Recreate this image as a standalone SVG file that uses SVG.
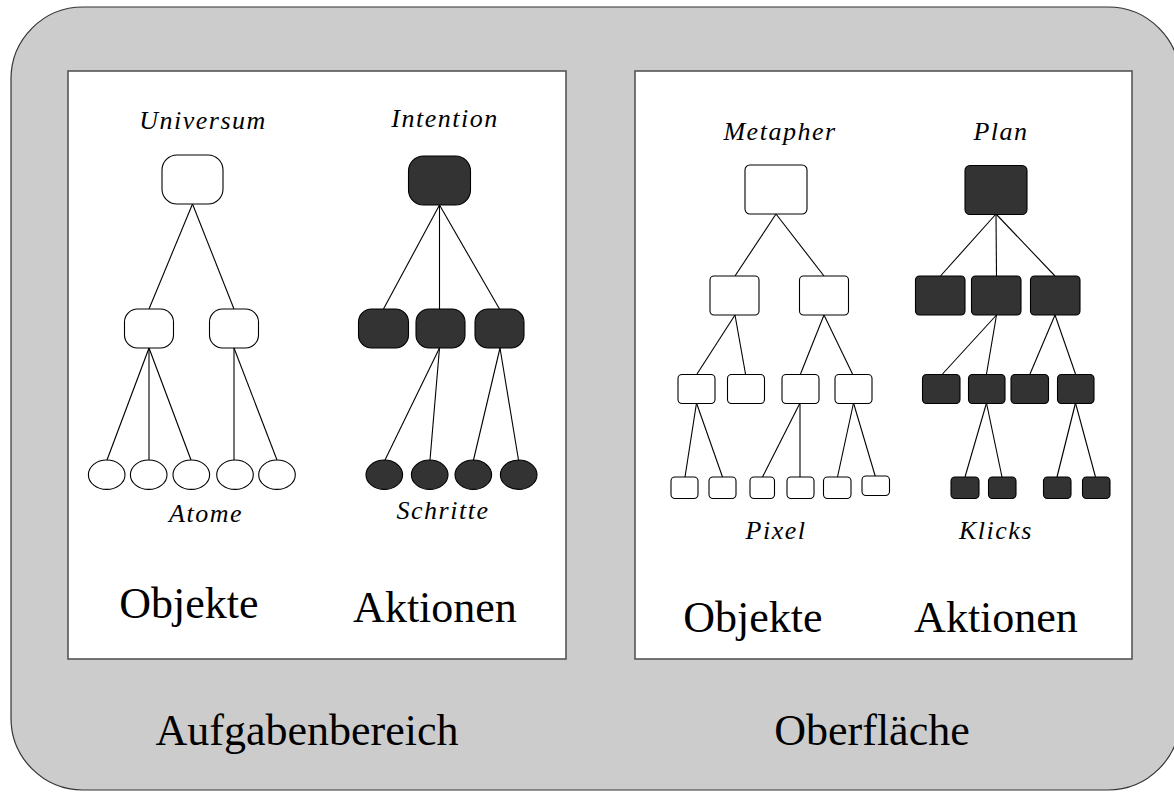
<svg xmlns="http://www.w3.org/2000/svg" width="1174" height="792" viewBox="0 0 1174 792">
  <style>
    .frame { fill: #cccccc; stroke: #333333; stroke-width: 1.2; }
    .panel { fill: #ffffff; stroke: #555555; stroke-width: 1.6; }
    .edge { stroke: #000000; stroke-width: 1.1; fill: none; }
    .open { fill: #ffffff; stroke: #000000; stroke-width: 1.1; }
    .solid { fill: #333333; stroke: #000000; stroke-width: 1.1; }
    .tag { font-family: "Liberation Serif", "Times New Roman", serif; font-style: italic; font-size: 26px; letter-spacing: 1.5px; fill: #000000; text-anchor: middle; }
    .title { font-family: "Liberation Serif", "Times New Roman", serif; font-size: 44px; fill: #000000; text-anchor: middle; }
  </style>

  <!-- outer frame and the two panels -->
  <g id="frame">
    <rect class="frame" x="11" y="7" width="1169" height="783" rx="72" ry="72"/>
    <rect class="panel" x="68" y="71" width="498" height="588"/>
    <rect class="panel" x="635" y="71" width="497" height="588"/>
  </g>

  <!-- connectors -->
  <g id="connectors" class="edge">
    <!-- Universum tree -->
    <line x1="192.5" y1="204" x2="149" y2="309"/>
    <line x1="192.5" y1="204" x2="234" y2="309"/>
    <line x1="149" y1="348" x2="107" y2="460"/>
    <line x1="149" y1="348" x2="149" y2="460"/>
    <line x1="149" y1="348" x2="191" y2="460"/>
    <line x1="234" y1="348" x2="234" y2="460"/>
    <line x1="234" y1="348" x2="277" y2="460"/>
    <!-- Intention tree -->
    <line x1="439.5" y1="205" x2="383.5" y2="309"/>
    <line x1="439.5" y1="205" x2="439.5" y2="309"/>
    <line x1="439.5" y1="205" x2="499.5" y2="309"/>
    <line x1="439.5" y1="348" x2="385" y2="460"/>
    <line x1="439.5" y1="348" x2="430" y2="460"/>
    <line x1="500" y1="348" x2="473.5" y2="460"/>
    <line x1="500" y1="348" x2="518.5" y2="460"/>
    <!-- Metapher tree -->
    <line x1="776" y1="214" x2="735" y2="276"/>
    <line x1="776" y1="214" x2="824" y2="276"/>
    <line x1="735" y1="315" x2="697" y2="374"/>
    <line x1="735" y1="315" x2="745.5" y2="374"/>
    <line x1="824" y1="315" x2="800.5" y2="374"/>
    <line x1="824" y1="315" x2="852.5" y2="374"/>
    <line x1="696.5" y1="403" x2="685" y2="477"/>
    <line x1="696.5" y1="403" x2="722.5" y2="477"/>
    <line x1="800" y1="403" x2="762.5" y2="477"/>
    <line x1="800" y1="403" x2="800" y2="477"/>
    <line x1="853.5" y1="403" x2="837.5" y2="477"/>
    <line x1="853.5" y1="403" x2="875.5" y2="477"/>
    <!-- Plan tree -->
    <line x1="996" y1="214" x2="940.5" y2="276"/>
    <line x1="996" y1="214" x2="996.5" y2="276"/>
    <line x1="996" y1="214" x2="1055" y2="276"/>
    <line x1="996.5" y1="315" x2="942.5" y2="374"/>
    <line x1="996.5" y1="315" x2="986.5" y2="374"/>
    <line x1="1055" y1="315" x2="1030" y2="374"/>
    <line x1="1055" y1="315" x2="1075.5" y2="374"/>
    <line x1="986.5" y1="403" x2="965" y2="477"/>
    <line x1="986.5" y1="403" x2="1002" y2="477"/>
    <line x1="1075.5" y1="403" x2="1057" y2="477"/>
    <line x1="1075.5" y1="403" x2="1095.5" y2="477"/>
  </g>

  <!-- Universum: object hierarchy of the task domain -->
  <g id="universum-root"><rect class="open" x="162" y="155" width="61" height="49" rx="15"/></g>
  <g id="universum-a"><rect class="open" x="124.5" y="309" width="49" height="39" rx="13"/></g>
  <g id="universum-b"><rect class="open" x="209.5" y="309" width="49" height="39" rx="13"/></g>
  <g id="atom-1"><ellipse class="open" cx="106.7" cy="474.7" rx="18.3" ry="14.7"/></g>
  <g id="atom-2"><ellipse class="open" cx="148.7" cy="474.7" rx="18.3" ry="14.7"/></g>
  <g id="atom-3"><ellipse class="open" cx="191.3" cy="474.7" rx="18.3" ry="14.7"/></g>
  <g id="atom-4"><ellipse class="open" cx="235" cy="474.7" rx="18.3" ry="14.7"/></g>
  <g id="atom-5"><ellipse class="open" cx="277" cy="474.7" rx="18.3" ry="14.7"/></g>

  <!-- Intention: action hierarchy of the task domain -->
  <g id="intention-root"><rect class="solid" x="408.5" y="156" width="62" height="49" rx="15"/></g>
  <g id="intention-a"><rect class="solid" x="358.5" y="309" width="50" height="39" rx="13"/></g>
  <g id="intention-b"><rect class="solid" x="416" y="309" width="49" height="39" rx="13"/></g>
  <g id="intention-c"><rect class="solid" x="475" y="309" width="49" height="39" rx="13"/></g>
  <g id="step-1"><ellipse class="solid" cx="384.3" cy="474.7" rx="18.3" ry="14.7"/></g>
  <g id="step-2"><ellipse class="solid" cx="429.7" cy="474.7" rx="18.3" ry="14.7"/></g>
  <g id="step-3"><ellipse class="solid" cx="473.3" cy="474.7" rx="18.3" ry="14.7"/></g>
  <g id="step-4"><ellipse class="solid" cx="518.7" cy="474.7" rx="18.3" ry="14.7"/></g>

  <!-- Metapher: object hierarchy of the interface -->
  <g id="metapher-root"><rect class="open" x="745" y="165" width="62" height="49" rx="5"/></g>
  <g id="metapher-a"><rect class="open" x="710" y="276" width="49" height="39" rx="4"/></g>
  <g id="metapher-b"><rect class="open" x="799.5" y="276" width="49" height="39" rx="4"/></g>
  <g id="metapher-a1"><rect class="open" x="678" y="374.5" width="37" height="29" rx="4"/></g>
  <g id="metapher-a2"><rect class="open" x="727.5" y="374.5" width="37" height="29" rx="4"/></g>
  <g id="metapher-b1"><rect class="open" x="782" y="374.5" width="37" height="29" rx="4"/></g>
  <g id="metapher-b2"><rect class="open" x="835" y="374.5" width="37" height="29" rx="4"/></g>
  <g id="pixel-1"><rect class="open" x="671" y="477" width="27" height="21.5" rx="4"/></g>
  <g id="pixel-2"><rect class="open" x="709" y="477" width="27" height="21.5" rx="4"/></g>
  <g id="pixel-3"><rect class="open" x="750" y="477" width="24.5" height="21.5" rx="4"/></g>
  <g id="pixel-4"><rect class="open" x="787" y="477" width="27" height="21.5" rx="4"/></g>
  <g id="pixel-5"><rect class="open" x="823.5" y="477" width="27.5" height="21.5" rx="4"/></g>
  <g id="pixel-6"><rect class="open" x="862" y="476" width="27.5" height="19.5" rx="4"/></g>

  <!-- Plan: action hierarchy of the interface -->
  <g id="plan-root"><rect class="solid" x="965" y="165.5" width="62" height="49" rx="5"/></g>
  <g id="plan-a"><rect class="solid" x="915.5" y="276" width="49.5" height="39" rx="4"/></g>
  <g id="plan-b"><rect class="solid" x="971.5" y="276" width="49.5" height="39" rx="4"/></g>
  <g id="plan-c"><rect class="solid" x="1030.5" y="276" width="49.5" height="39" rx="4"/></g>
  <g id="plan-a1"><rect class="solid" x="922.5" y="374.5" width="37.5" height="29" rx="4"/></g>
  <g id="plan-b1"><rect class="solid" x="968.5" y="374.5" width="36.5" height="29" rx="4"/></g>
  <g id="plan-c1"><rect class="solid" x="1011" y="374.5" width="37.5" height="29" rx="4"/></g>
  <g id="plan-c2"><rect class="solid" x="1057.5" y="374.5" width="36.5" height="29" rx="4"/></g>
  <g id="click-1"><rect class="solid" x="951" y="477" width="28" height="21.5" rx="4"/></g>
  <g id="click-2"><rect class="solid" x="988.5" y="477" width="27.5" height="21.5" rx="4"/></g>
  <g id="click-3"><rect class="solid" x="1043.5" y="477" width="27.5" height="21.5" rx="4"/></g>
  <g id="click-4"><rect class="solid" x="1082.5" y="477" width="27.5" height="21.5" rx="4"/></g>

  <!-- labels -->
  <g id="labels">
    <text class="tag" x="203" y="129">Universum</text>
    <text class="tag" x="445" y="127">Intention</text>
    <text class="tag" x="206" y="522">Atome</text>
    <text class="tag" x="443" y="519">Schritte</text>
    <text class="tag" x="780" y="140">Metapher</text>
    <text class="tag" x="1001" y="140">Plan</text>
    <text class="tag" x="776" y="539">Pixel</text>
    <text class="tag" x="996" y="539">Klicks</text>
    <text class="title" x="189" y="618">Objekte</text>
    <text class="title" x="435" y="622">Aktionen</text>
    <text class="title" x="753" y="632">Objekte</text>
    <text class="title" x="996" y="632">Aktionen</text>
    <text class="title" x="307" y="745">Aufgabenbereich</text>
    <text class="title" x="872" y="745">Oberfläche</text>
  </g>
</svg>
